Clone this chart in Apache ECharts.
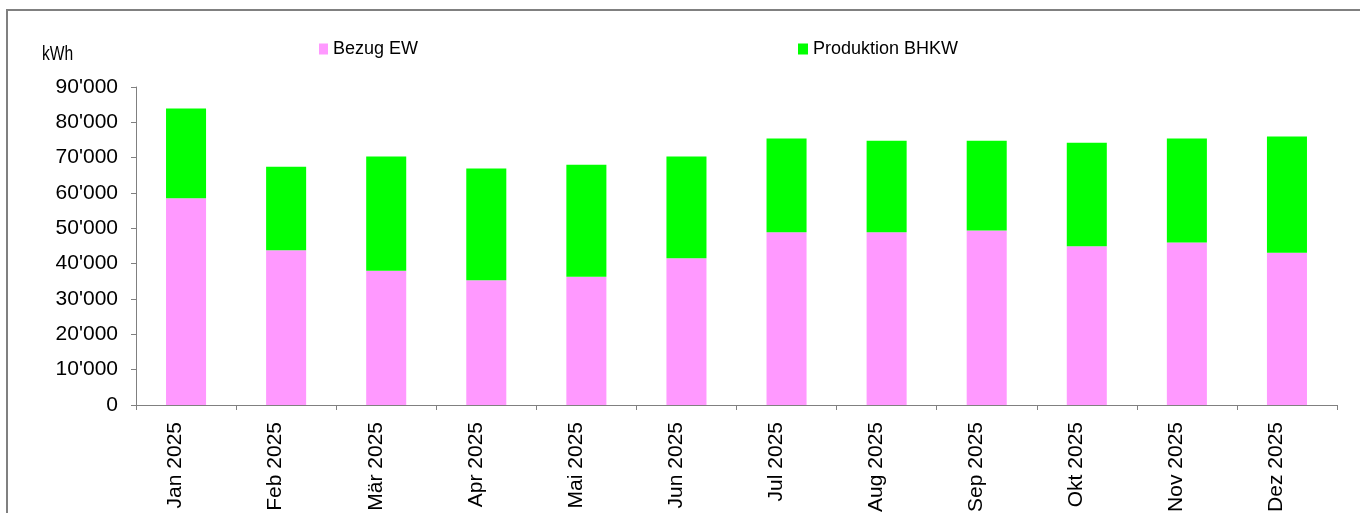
<!DOCTYPE html>
<html>
<head>
    <meta charset="utf-8">
    <title>Bezug EW / Produktion BHKW</title>
    <script src="https://cdn.jsdelivr.net/npm/echarts@6/dist/echarts.min.js"></script>
    <style>
        html, body { margin: 0; padding: 0; background: #fff; }
        #main { width: 1360px; height: 513px; }
    </style>
</head>
<body>
    <div id="main"></div>
    <script type="text/javascript">
        // Monatswerte in kWh
        var months = ['Jan 2025', 'Feb 2025', 'Mär 2025', 'Apr 2025', 'Mai 2025', 'Jun 2025',
                      'Jul 2025', 'Aug 2025', 'Sep 2025', 'Okt 2025', 'Nov 2025', 'Dez 2025'];
        var bezugEW = [58500, 43800, 38000, 35300, 36300, 41500, 48900, 48900, 49400, 44900, 46000, 43100];
        var produktionBHKW = [25400, 23600, 32300, 31600, 31700, 28800, 26500, 25900, 25400, 29300, 29400, 32900];
        var yTicks = [0, 10000, 20000, 30000, 40000, 50000, 60000, 70000, 80000, 90000];

        var font = "'Liberation Sans', Arial, sans-serif";

        function fmt(v) {
            // Tausendertrennzeichen als Apostroph
            return String(v).replace(/\B(?=(\d{3})+(?!\d))/g, "'");
        }

        var myChart = echarts.init(document.getElementById('main'));

        var option = {
            animation: false,
            backgroundColor: '#fff',
            textStyle: { fontFamily: font, color: '#000' },
            graphic: [
                {
                    type: 'rect',
                    shape: { x: 7, y: 10, width: 1500, height: 700 },
                    style: { fill: 'none', stroke: '#808080', lineWidth: 2 },
                    silent: true
                },
                {
                    type: 'text',
                    x: 42,
                    y: 44,
                    scaleX: 0.78,
                    style: { text: 'kWh', fontSize: 20, fontFamily: font, fill: '#000' }
                }
            ],
            legend: [
                {
                    data: ['Bezug EW'],
                    left: 319,
                    top: 40,
                    padding: 0,
                    icon: 'rect',
                    itemWidth: 9,
                    itemHeight: 11,
                    textStyle: { fontSize: 18, fontFamily: font, color: '#000' }
                },
                {
                    data: ['Produktion BHKW'],
                    left: 798,
                    top: 40,
                    padding: 0,
                    icon: 'rect',
                    itemWidth: 10,
                    itemHeight: 11,
                    textStyle: { fontSize: 18, fontFamily: font, color: '#000' }
                }
            ],
            grid: {
                left: 136,
                right: 23,
                top: 87,
                bottom: 108,
                containLabel: false,
                outerBoundsMode: 'none'
            },
            xAxis: {
                type: 'category',
                data: months,
                axisLine: { lineStyle: { color: '#808080', width: 1 } },
                axisTick: { show: true, length: 5, lineStyle: { color: '#808080' } },
                axisLabel: {
                    rotate: 90,
                    margin: 17,
                    fontSize: 21,
                    color: '#000',
                    fontFamily: font,
                    verticalAlign: 'bottom'
                }
            },
            yAxis: {
                type: 'value',
                min: yTicks[0],
                max: yTicks[yTicks.length - 1],
                interval: yTicks[1] - yTicks[0],
                splitLine: { show: false },
                axisLine: { show: true, lineStyle: { color: '#808080', width: 1 } },
                axisTick: { show: true, length: 5, lineStyle: { color: '#808080' } },
                axisLabel: {
                    margin: 18,
                    fontSize: 21,
                    color: '#000',
                    fontFamily: font,
                    formatter: fmt
                }
            },
            series: [
                {
                    name: 'Bezug EW',
                    type: 'bar',
                    stack: 'total',
                    barWidth: '40%',
                    itemStyle: { color: '#FF99FF' },
                    data: bezugEW
                },
                {
                    name: 'Produktion BHKW',
                    type: 'bar',
                    stack: 'total',
                    barWidth: '40%',
                    itemStyle: { color: '#00FF00' },
                    data: produktionBHKW
                }
            ]
        };

        myChart.setOption(option);
    </script>
</body>
</html>
